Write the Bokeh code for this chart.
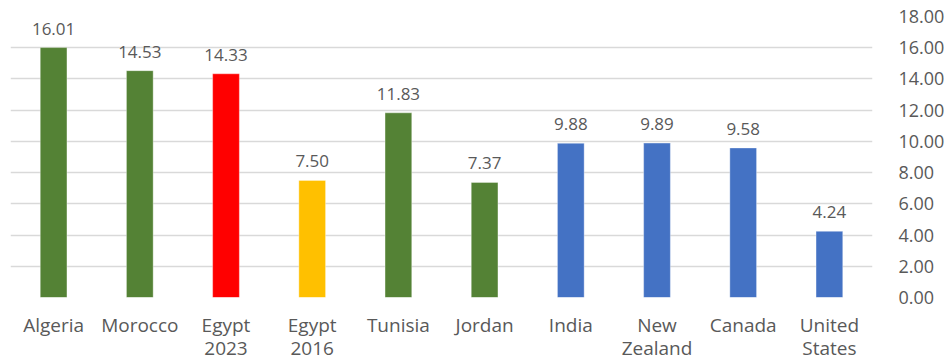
from bokeh.plotting import figure
from bokeh.models import (ColumnDataSource, LinearAxis, CategoricalAxis,
                          NumeralTickFormatter, FixedTicker, Range1d, FactorRange,
                          CustomJSTickFormatter)
from bokeh.core.properties import value
from bokeh.embed import file_html
from bokeh.resources import INLINE

# Data
countries = ["Algeria", "Morocco", "Egypt 2023", "Egypt 2016", "Tunisia",
             "Jordan", "India", "New Zealand", "Canada", "United States"]
label_line1 = ["Algeria", "Morocco", "Egypt", "Egypt", "Tunisia",
               "Jordan", "India", "New", "Canada", "United"]
label_line2 = ["", "", "2023", "2016", "", "", "", "Zealand", "", "States"]
values = [16.01, 14.53, 14.33, 7.50, 11.83, 7.37, 9.88, 9.89, 9.58, 4.24]
colors = ["#548235", "#548235", "#FF0000", "#FFC000", "#548235",
          "#548235", "#4472C4", "#4472C4", "#4472C4", "#4472C4"]
y_ticks = [0, 2, 4, 6, 8, 10, 12, 14, 16, 18]

TEXT = "#595959"
FONT = "Open Sans"
ZW = "\u200b"  # zero-width space, keeps repeated row labels distinct


def unique_factors(lines):
    seen = {}
    out = []
    for t in lines:
        n = seen.get(t, 0)
        seen[t] = n + 1
        out.append(t + ZW * n)
    return out


src = ColumnDataSource(dict(
    country=countries,
    val=values,
    color=colors,
    label=[f"{v:.2f}" for v in values],
))

p = figure(
    x_range=countries,
    y_range=Range1d(0, 18),
    width=947, height=363,
    output_backend="svg",
    toolbar_location=None,
    x_axis_location=None,
    y_axis_location=None,
    min_border_left=10, min_border_right=69,
    min_border_top=16, min_border_bottom=0,
    outline_line_color=None,
    background_fill_color="white",
    border_fill_color="white",
)

p.extra_x_ranges = {"row1": FactorRange(factors=unique_factors(label_line1))}

p.vbar(x="country", top="val", width=0.31, source=src,
       fill_color="color", line_color="white", line_alpha=0.35, line_width=1)

p.text(x="country", y="val", text="label", source=src,
       text_align="center", text_baseline="middle", y_offset=-19,
       text_font=value(FONT), text_font_size="17px", text_color=TEXT)

# value axis on the right
yax = LinearAxis(
    ticker=FixedTicker(ticks=y_ticks),
    formatter=NumeralTickFormatter(format="0.00"),
    axis_line_color=None,
    major_tick_line_color=None,
    minor_tick_line_color=None,
    major_label_standoff=20,
    major_label_text_font=FONT,
    major_label_text_font_size="18px",
    major_label_text_color=TEXT,
)
p.add_layout(yax, "right")

label_style = dict(
    axis_line_color=None,
    major_tick_line_color=None,
    minor_tick_line_color=None,
    major_label_text_font=FONT,
    major_label_text_font_size="19px",
    major_label_text_color=TEXT,
)

# first row of category names
row1 = CategoricalAxis(x_range_name="row1", major_label_standoff=8, **label_style)
p.add_layout(row1, "below")

# second row: only the names that wrap onto two lines
row2_pos = [i + 0.5 for i, t in enumerate(label_line2) if t]
row2_txt = [t for t in label_line2 if t]
row2 = LinearAxis(
    ticker=FixedTicker(ticks=row2_pos, minor_ticks=[]),
    formatter=CustomJSTickFormatter(args=dict(labels=row2_txt),
                                    code="return labels[index];"),
    major_label_standoff=-12,
    **label_style,
)
p.add_layout(row2, "below")

p.xgrid.grid_line_color = None
p.ygrid.ticker = FixedTicker(ticks=y_ticks)
p.ygrid.grid_line_color = "#d9d9d9"
p.ygrid.grid_line_width = 1.5

open("out.html", "w").write(file_html(p, INLINE))
